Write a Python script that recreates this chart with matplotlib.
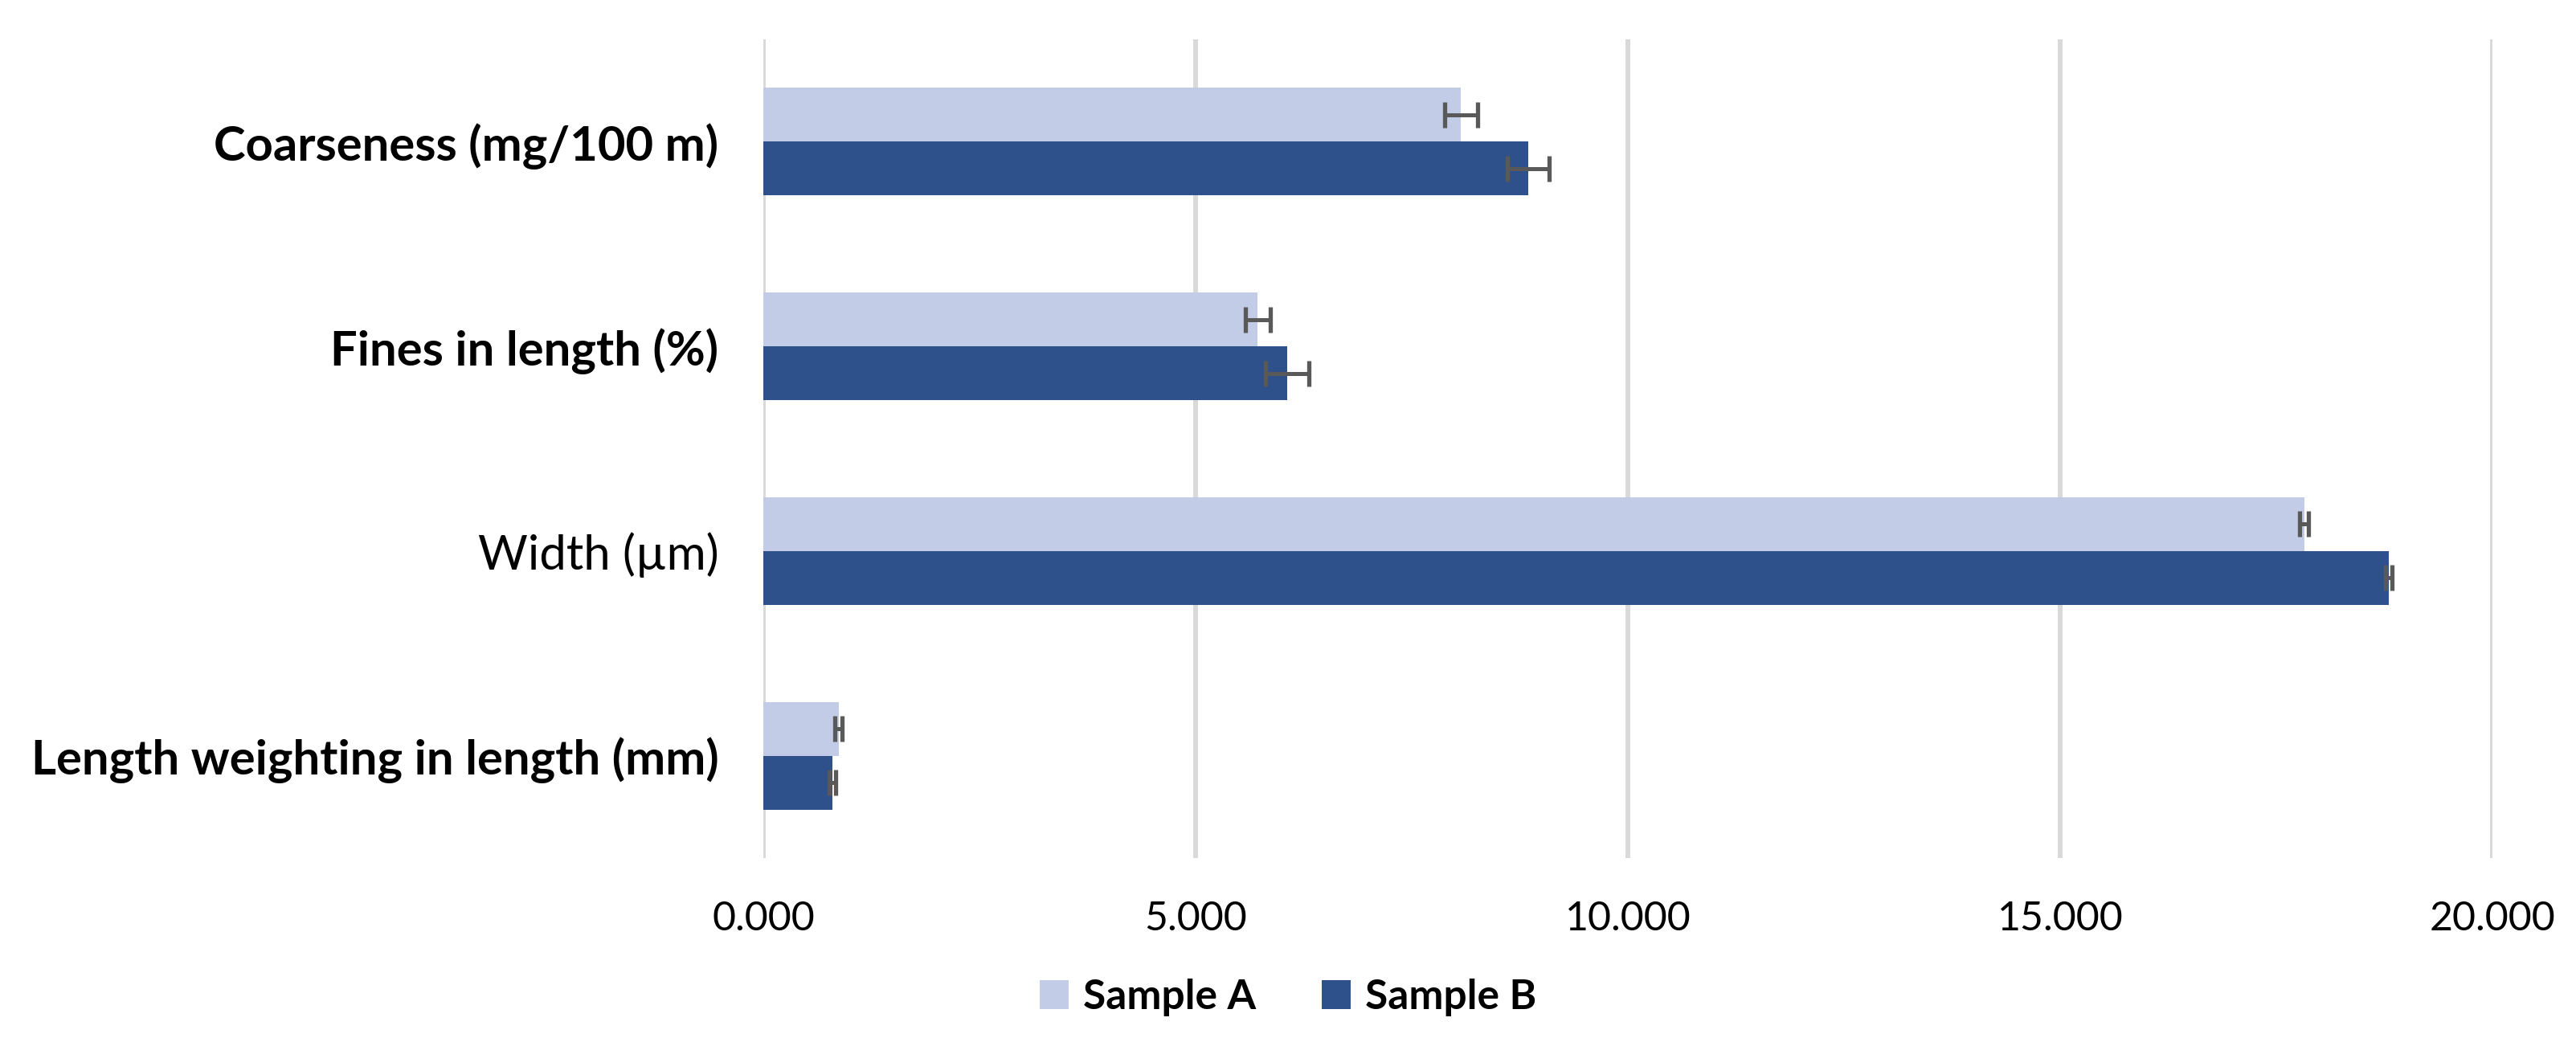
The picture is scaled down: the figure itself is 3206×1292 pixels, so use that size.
import matplotlib.pyplot as plt
import numpy as np

plt.rcParams['font.family'] = ['Lato', 'DejaVu Sans']

# 数据（从下到上）
categories = ['Length weighting in length (mm)', 'Width (\u00b5m)', 'Fines in length (%)', 'Coarseness (mg/100 m)']
sample_a = [0.87, 17.82, 5.72, 8.07]
sample_a_err = [0.04, 0.05, 0.14, 0.19]
sample_b = [0.80, 18.80, 6.06, 8.85]
sample_b_err = [0.04, 0.04, 0.25, 0.24]
x_ticks = [0, 5, 10, 15, 20]

color_a = '#C3CCE6'
color_b = '#2E508B'
err_color = '#595959'

fig = plt.figure(figsize=(32.06, 12.92), dpi=100)
ax = fig.add_axes([0.2963, 0.1734, 0.6713, 0.7886])

y = np.arange(len(categories))
h = 0.263
err_kw = dict(ecolor=err_color, elinewidth=3.6, capsize=11.5, capthick=3.8)
ax.barh(y + h / 2, sample_a, height=h, color=color_a, xerr=sample_a_err,
        error_kw=err_kw, label='Sample A', zorder=3)
ax.barh(y - h / 2, sample_b, height=h, color=color_b, xerr=sample_b_err,
        error_kw=err_kw, label='Sample B', zorder=3)

ax.set_xlim(0, 20)
ax.set_ylim(-0.5, 3.5)
ax.set_xticks(x_ticks)
ax.set_xticklabels([f'{v:.3f}' for v in x_ticks], fontsize=36)
ax.set_yticks(y)
ax.set_yticklabels(categories, fontsize=43)
for lbl in ax.get_yticklabels():
    if lbl.get_text().startswith('Width'):
        lbl.set_fontweight('normal')
    else:
        lbl.set_fontweight('bold')

ax.tick_params(axis='x', length=0, pad=38)
ax.tick_params(axis='y', length=0, pad=40)
ax.grid(axis='x', color='#D9D9D9', linewidth=4.3, zorder=0)
ax.set_axisbelow(True)
for s in ax.spines.values():
    s.set_visible(False)

fig.legend(loc='center', bbox_to_anchor=(0.5, 0.039), ncol=2, frameon=False,
           prop={'size': 37, 'weight': 'bold'}, handlelength=0.7, handleheight=0.7,
           handletextpad=0.35, columnspacing=1.6)

plt.savefig('out.png', dpi=100)
